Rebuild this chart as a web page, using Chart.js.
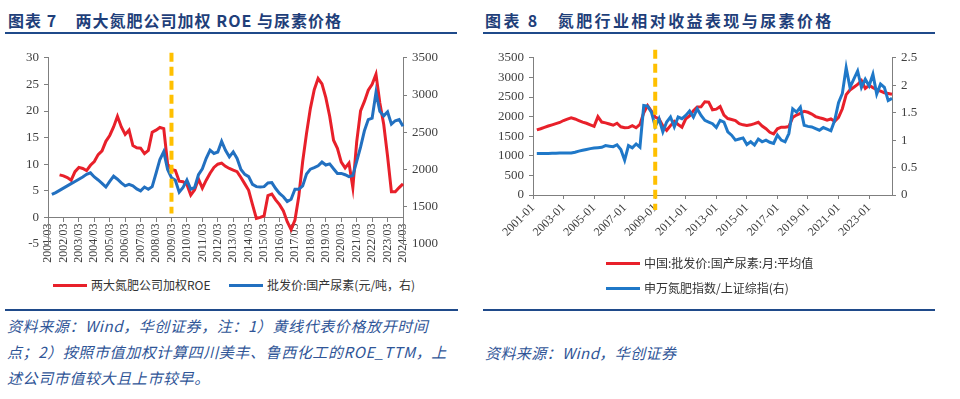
<!DOCTYPE html>
<html>
<head>
<meta charset="utf-8">
<script src="https://cdn.jsdelivr.net/npm/chart.js@4.4.1/dist/chart.umd.min.js"></script>
<style>
  body { margin: 0; width: 960px; height: 399px; overflow: hidden; position: relative; background: #fff;
         font-family: "Noto Sans CJK SC", sans-serif; }
  .title { position: absolute; top: 8px; font-size: 16px; font-weight: bold; color: #1f3f7a; white-space: pre; letter-spacing: 1px; }
  .rule { position: absolute; height: 2px; background: #1f4a8a; }
  .leg { position: absolute; font-size: 12px; color: #333; white-space: nowrap; line-height: 16px; }
  .leg i { display: inline-block; width: 34px; height: 2.5px; vertical-align: middle; margin-right: 4px; position: relative; top: -1px; }
  .note { position: absolute; font-size: 15px; font-style: italic; color: #2f5597; line-height: 26px; letter-spacing: 0.6px; white-space: pre; }
  canvas { position: absolute; }
</style>
</head>
<body>
<div class="title" style="left:8px">图表 7    两大氮肥公司加权 ROE 与尿素价格</div>
<div class="rule" style="left:5px;top:32px;width:452px"></div>
<canvas id="roeCanvas" width="480" height="230" style="left:0;top:45px"></canvas>
<div class="leg" style="left:53px;top:277px"><i style="background:#e8202a"></i>两大氮肥公司加权ROE</div>
<div class="leg" style="left:229px;top:277px"><i style="background:#2270c0"></i>批发价:国产尿素(元/吨，右)</div>
<div class="rule" style="left:5px;top:309px;width:453px"></div>
<div class="note" style="left:7px;top:313px">资料来源：Wind，华创证券，注：1）黄线代表价格放开时间
点；2）按照市值加权计算四川美丰、鲁西化工的ROE_TTM，上
述公司市值较大且上市较早。</div>

<div class="title" style="left:485px;letter-spacing:2.4px">图表 8   氮肥行业相对收益表现与尿素价格</div>
<div class="rule" style="left:483px;top:32px;width:452px"></div>
<canvas id="relCanvas" width="480" height="215" style="left:480px;top:45px"></canvas>
<div class="leg" style="left:606px;top:255px"><i style="background:#e8202a"></i>中国:批发价:国产尿素:月:平均值</div>
<div class="leg" style="left:606px;top:280px"><i style="background:#1f78c8"></i>申万氮肥指数/上证综指(右)</div>
<div class="rule" style="left:483px;top:309px;width:452px"></div>
<div class="note" style="left:485px;top:340px;letter-spacing:0.4px">资料来源：Wind，华创证券</div>

<script>
// 图表7：季度数据 2001/03 - 2024/03
const quartersRoe = [];
for (let y = 2001; y <= 2024; y++) {
  for (const m of ['03', '06', '09', '12']) {
    if (y === 2024 && m !== '03') break;
    quartersRoe.push(y + '/' + m);
  }
}
const roeValues = [
  null, null, null, 8.0,
  7.8, 7.5, 7.0, 8.6,
  9.4, 9.2, 8.8, 9.8,
  10.5, 11.8, 12.5, 14.3,
  15.4, 17.0, 19.0, 17.0,
  15.6, 16.4, 13.5, 13.1,
  13.0, 12.0, 12.6, 16.0,
  16.4, 16.9, 16.7, 10.0,
  9.0, 8.8, 6.8, 6.7,
  6.2, 4.2, 5.2, 7.2,
  5.5, 7.0, 8.3, 9.4,
  10.0, 10.2, 9.6, 9.2,
  8.9, 8.6, 7.5, 6.3,
  5.1, 2.4, -0.2, 0.0,
  0.3, 4.1, 4.4, 3.3,
  2.4, 1.2, -0.8, -2.3,
  -0.5, 4.0, 10.5, 15.8,
  20.5, 24.0, 26.1, 25.1,
  22.5, 19.0, 14.5, 13.0,
  10.4, 9.3, 10.2, 5.6,
  14.2, 20.0, 21.8, 23.9,
  25.0, 26.9, 21.5, 17.5,
  11.5, 4.8, 4.8, 5.6,
  6.3
];
const ureaQuarterly = [
  null, 1665, 1690, 1720,
  1750, 1780, 1810, 1840,
  1870, 1900, 1935, 1955,
  1900, 1860, 1815, 1765,
  1840, 1910, 1870, 1820,
  1780, 1800, 1780, 1740,
  1714, 1765, 1735, 1770,
  1950, 2135, 2240, 2000,
  1890, 1855, 1695, 1760,
  1860, 1735, 1760, 1930,
  2010, 2150, 2259, 2215,
  2235, 2379, 2259, 2170,
  2237, 2148, 2000, 1935,
  1904, 1800, 1770, 1765,
  1770, 1820, 1824, 1745,
  1680, 1635, 1570, 1600,
  1735, 1735, 1780, 1940,
  2005, 2025, 2050, 2100,
  2060, 2075, 2010, 1948,
  1948, 1930, 1904, 1918,
  2110, 2300, 2520, 2670,
  2690, 3035, 2780, 2720,
  2775, 2610, 2655, 2672,
  2582
];

// 图表8：季度数据 2001-01 - 2024-07
const quartersRel = [];
for (let y = 2001; y <= 2024; y++) {
  for (const m of ['01', '04', '07', '10']) {
    if (y === 2024 && m === '10') break;
    quartersRel.push(y + '-' + m);
  }
}
const ureaMonthlyAvg = [
  null, 1660, 1690, 1725,
  1760, 1790, 1820, 1850,
  1900, 1935, 1970, 1940,
  1900, 1860, 1830, 1790,
  1750, 2000, 1860, 1840,
  1810, 1780, 1830, 1740,
  1715, 1720, 1770, 1715,
  1800, 2100, 2282, 2140,
  1986, 1940, 1760, 1650,
  1770, 1880, 1800, 1730,
  1945, 2020, 2150, 2245,
  2250, 2380, 2370, 2175,
  2190, 2257, 2040, 1950,
  1927, 1900, 1818, 1790,
  1775, 1790, 1820, 1855,
  1760, 1690, 1600, 1560,
  1690, 1730, 1730, 1745,
  1980, 2040, 2080, 2135,
  2110, 2065, 2000, 1970,
  1945, 1910, 1940, 1880,
  1980, 2200, 2560, 2680,
  2750, 2820, 2920, 2720,
  2800, 2740, 2690, 2650,
  2610, 2590, 2570
];
const fertIndexRatio = [
  null, 0.755, 0.756, 0.757,
  0.758, 0.76, 0.762, 0.764,
  0.765, 0.766, 0.767, 0.78,
  0.80, 0.815, 0.83, 0.845,
  0.855, 0.862, 0.87, 0.90,
  0.89, 0.88, 0.915, 0.83,
  0.634, 0.9, 0.86, 0.93,
  0.87, 1.63, 1.62, 1.51,
  1.25, 1.39, 1.15, 1.33,
  1.42, 1.24, 1.42, 1.39,
  1.45, 1.53, 1.42, 1.57,
  1.45, 1.36, 1.33, 1.30,
  1.23, 1.36, 1.33, 1.15,
  1.09, 1.0, 1.02, 1.04,
  0.92, 0.97, 0.91, 1.02,
  0.97, 1.0, 0.96, 0.94,
  1.09, 1.0, 0.97, 1.12,
  1.57, 1.51, 1.60, 1.27,
  1.25, 1.24, 1.21, 1.18,
  1.23, 1.20, 1.17, 1.36,
  1.68, 1.85, 2.32, 1.96,
  2.11, 2.26, 1.96, 2.11,
  1.99, 2.2, 1.84, 2.02,
  1.96, 1.72, 1.76
];

// 价格放开时间点
const releaseRoe = '2009/03';
const releaseRel = '2009-01';

const RED = '#e8202a';
const AXIS = '#7f7f7f';
const TICK = '#404040';

Chart.defaults.font.family = '"Liberation Serif", serif';
Chart.defaults.color = TICK;

// 黄色虚线
const releaseLine = {
  id: 'releaseLine',
  afterDatasetsDraw(chart, args, opts) {
    const xs = chart.scales.x;
    const x = xs.getPixelForValue(xs.getLabels().indexOf(opts.at));
    const top = chart.chartArea.top - opts.above;
    const bottom = chart.scales.y.getPixelForValue(0) + opts.below;
    const ctx = chart.ctx;
    ctx.save();
    ctx.strokeStyle = '#ffc000';
    ctx.lineWidth = 4;
    ctx.setLineDash([9, 5]);
    ctx.beginPath();
    ctx.moveTo(x, top);
    ctx.lineTo(x, bottom);
    ctx.stroke();
    ctx.restore();
  }
};

function line(data, color, axis, order) {
  return { data, borderColor: color, backgroundColor: color, borderWidth: 3, pointRadius: 0,
           tension: 0, yAxisID: axis, order };
}

function sideAxis(pos, min, max, step, width) {
  return {
    position: pos, min, max,
    grid: { drawOnChartArea: false, tickLength: 4, color: AXIS },
    border: { color: AXIS },
    ticks: { stepSize: step, padding: 5, font: { size: 13 }, callback: v => String(v) },
    afterFit(scale) { scale.width = width; }
  };
}

new Chart(document.getElementById('roeCanvas'), {
  type: 'line',
  data: {
    labels: quartersRoe,
    datasets: [
      line(roeValues, RED, 'y', 2),
      line(ureaQuarterly, '#2270c0', 'y1', 1)
    ]
  },
  options: {
    responsive: false,
    animation: false,
    layout: { autoPadding: false, padding: { top: 10, bottom: 31, left: 0, right: 0 } },
    plugins: {
      legend: { display: false },
      tooltip: { enabled: false },
      releaseLine: { at: releaseRoe, above: 5, below: -4 }
    },
    scales: {
      x: {
        position: { y: 0 },
        grid: { drawOnChartArea: false, tickLength: 4, color: c => (c.index % 4 === 0 ? AXIS : 'rgba(0,0,0,0)') },
        border: { color: AXIS },
        ticks: {
          autoSkip: false, minRotation: 90, maxRotation: 90, padding: 2, font: { size: 12 },
          callback(v, i) { return i % 4 === 0 ? this.getLabelForValue(v) : ''; }
        }
      },
      y: sideAxis('left', -5, 30, 5, 48),
      y1: sideAxis('right', 1000, 3500, 500, 77)
    }
  },
  plugins: [releaseLine]
});

new Chart(document.getElementById('relCanvas'), {
  type: 'line',
  data: {
    labels: quartersRel,
    datasets: [
      line(ureaMonthlyAvg, RED, 'y', 2),
      line(fertIndexRatio, '#1f78c8', 'y1', 1)
    ]
  },
  options: {
    responsive: false,
    animation: false,
    layout: { autoPadding: false, padding: { top: 12, bottom: 0, left: 0, right: 0 } },
    plugins: {
      legend: { display: false },
      tooltip: { enabled: false },
      releaseLine: { at: releaseRel, above: 8, below: 15 }
    },
    scales: {
      x: {
        grid: { drawOnChartArea: false, tickLength: 4, color: c => (c.index % 8 === 0 ? AXIS : 'rgba(0,0,0,0)') },
        border: { color: AXIS },
        ticks: {
          autoSkip: false, minRotation: 45, maxRotation: 45, padding: 2, font: { size: 12 },
          callback(v, i) { return i % 8 === 0 ? this.getLabelForValue(v) : ''; }
        },
        afterFit(scale) { scale.height = 65; }
      },
      y: sideAxis('left', 0, 3500, 500, 53),
      y1: sideAxis('right', 0, 2.5, 0.5, 68)
    }
  },
  plugins: [releaseLine]
});
</script>
</body>
</html>
